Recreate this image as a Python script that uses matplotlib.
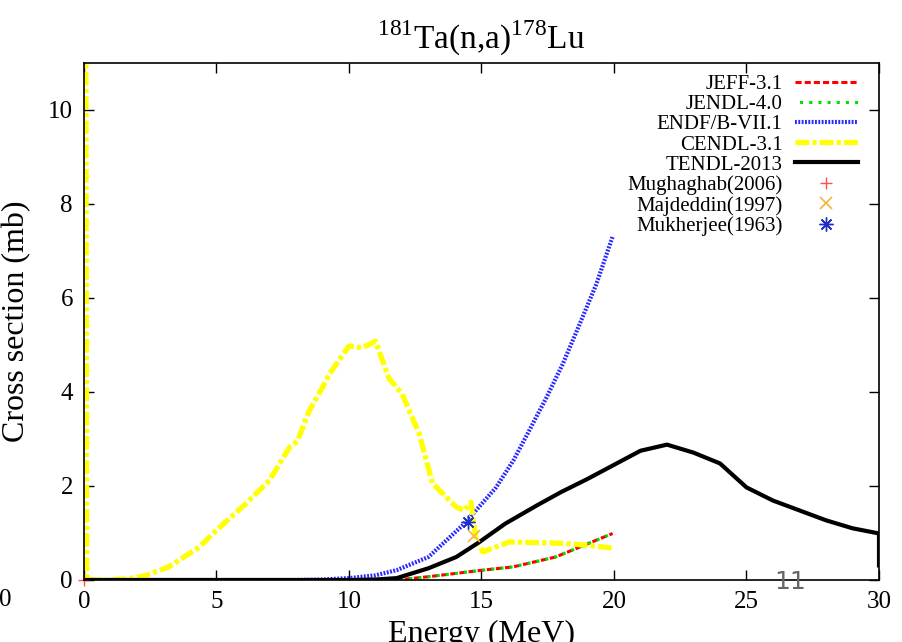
#! /usr/bin/env python
# -*- coding: utf-8 -*-

import matplotlib
matplotlib.use('Agg')
import matplotlib.pyplot as plt

# evaluated cross sections, energy in MeV, sigma in mb
jeff_e = [0.0, 10.0, 11.8, 13.0, 14.9, 16.2, 17.8, 19.0, 19.95]
jeff_xs = [0.0, 0.0, 0.0, 0.07, 0.2, 0.28, 0.49, 0.77, 0.99]

jendl_e = [0.0, 10.0, 11.8, 13.0, 14.9, 16.2, 17.8, 19.0, 19.95]
jendl_xs = [0.0, 0.0, 0.0, 0.07, 0.2, 0.28, 0.49, 0.77, 0.99]

endf_e = [0.0, 8.0, 9.0, 10.0, 11.0, 11.8, 13.0, 14.3, 14.9, 15.55,
          16.2, 16.8, 17.45, 18.07, 18.7, 19.33, 19.95]
endf_xs = [0.0, 0.0, 0.01, 0.04, 0.1, 0.21, 0.49, 1.17, 1.55, 1.97,
           2.54, 3.18, 3.88, 4.6, 5.44, 6.29, 7.31]

cendl_e = [0.06, 0.1, 1.0, 1.7, 2.3, 3.2, 4.35, 5.0, 6.1, 7.0, 7.75, 8.05,
           8.5, 9.0, 9.26, 10.0, 10.5, 11.0, 11.5, 12.0, 12.65, 13.15,
           14.05, 14.35, 14.6, 14.8, 15.05, 16.05, 18.07, 18.97, 19.95]
cendl_xs = [15.0, 0.0, 0.0, 0.03, 0.09, 0.28, 0.7, 1.06, 1.62, 2.12, 2.82,
            2.95, 3.6, 4.1, 4.38, 4.98, 4.94, 5.08, 4.3, 3.96, 3.11, 2.06,
            1.55, 1.48, 1.65, 0.85, 0.6, 0.81, 0.78, 0.74, 0.68]

tendl_e = [0.0, 10.0, 11.0, 11.8, 13.0, 14.05, 14.9, 15.9, 17.1, 18.0, 19.0,
           20.0, 21.0, 22.0, 23.0, 24.0, 25.0, 26.0, 27.0, 28.0, 29.0,
           30.0, 30.0]
tendl_xs = [0.0, 0.0, 0.01, 0.04, 0.25, 0.49, 0.8, 1.2, 1.59, 1.87, 2.15,
            2.45, 2.75, 2.88, 2.71, 2.48, 1.97, 1.69, 1.48, 1.27, 1.1,
            0.99, 0.31]

# measurements
mugh_e, mugh_xs = [0.0], [0.0]
majd_e, majd_xs = [14.7], [0.93]
mukh_e, mukh_xs = [14.5], [1.23]

serif = ['Liberation Serif', 'DejaVu Serif']
plt.rcParams['font.family'] = serif
plt.rcParams['mathtext.fontset'] = 'custom'
plt.rcParams['mathtext.rm'] = 'Liberation Serif'

fig = plt.figure(figsize=(9.03, 6.42), dpi=100)
ax = fig.add_axes([84 / 903, 62 / 642, 795 / 903, 517 / 642])

ax.plot(jeff_e, jeff_xs, color='#ff0000', lw=2.2,
        linestyle=(0, (2.0, 1.0)), label='JEFF-3.1')
ax.plot(jendl_e, jendl_xs, color='#00e000', lw=2.2,
        linestyle=(1.5, (1.0, 2.0)), label='JENDL-4.0')
ax.plot(endf_e, endf_xs, color='#2828ff', lw=3.0,
        linestyle=(0, (0.45, 0.35)), label='ENDF/B-VII.1')
ax.plot(cendl_e, cendl_xs, color='#ffff00', lw=3.8,
        linestyle=(0, (2.6, 0.6, 0.8, 0.6)), label='CENDL-3.1')
ax.plot(tendl_e, tendl_xs, color='black', lw=3.0, label='TENDL-2013')

ax.plot(mugh_e, mugh_xs, linestyle='none', marker='+', ms=9, mew=1.0,
        color='#ff5050', label='Mughaghab(2006)', clip_on=False)
ax.plot(majd_e, majd_xs, linestyle='none', marker='x', ms=8, mew=1.2,
        color='#f4b53f', label='Majdeddin(1997)')
ax.plot(mukh_e, mukh_xs, linestyle='none', marker=(8, 2, 0), ms=10, mew=1.0,
        color='#2030c0', label='Mukherjee(1963)')

ax.set_xlim(0, 30)
ax.set_ylim(0, 11)
ax.set_xticks(range(0, 31, 5))
ax.set_yticks(range(0, 11, 2))
ax.tick_params(direction='in', length=7, width=1.0, top=True, right=True,
               labelsize=18, pad=8)
ax.tick_params(axis='y', pad=8)
for s in ax.spines.values():
    s.set_linewidth(1.2)

ax.set_title(r'$^{181}$Ta(n,a)$^{178}$Lu', fontsize=24, pad=10)
ax.set_ylabel('Cross section (mb)', fontsize=23, va='center')
ax.yaxis.set_label_coords(-67 / 795, 0.5)
ax.set_xlabel('Energy (MeV)', fontsize=23, labelpad=5)

ax.legend(loc='upper right', bbox_to_anchor=(0.973, 0.978), frameon=False,
          markerfirst=False, fontsize=15, handlelength=3.0, handletextpad=0.6,
          labelspacing=0.03, borderaxespad=0, borderpad=0)

fig.text(12 / 903, 1 - 600 / 642, '0', fontsize=18, ha='right', va='center')
fig.text(790 / 903, 1 - 582 / 642, '11', fontsize=18, color='#666666',
         family='DejaVu Sans', ha='center', va='center')

fig.savefig('out.png', dpi=100)
